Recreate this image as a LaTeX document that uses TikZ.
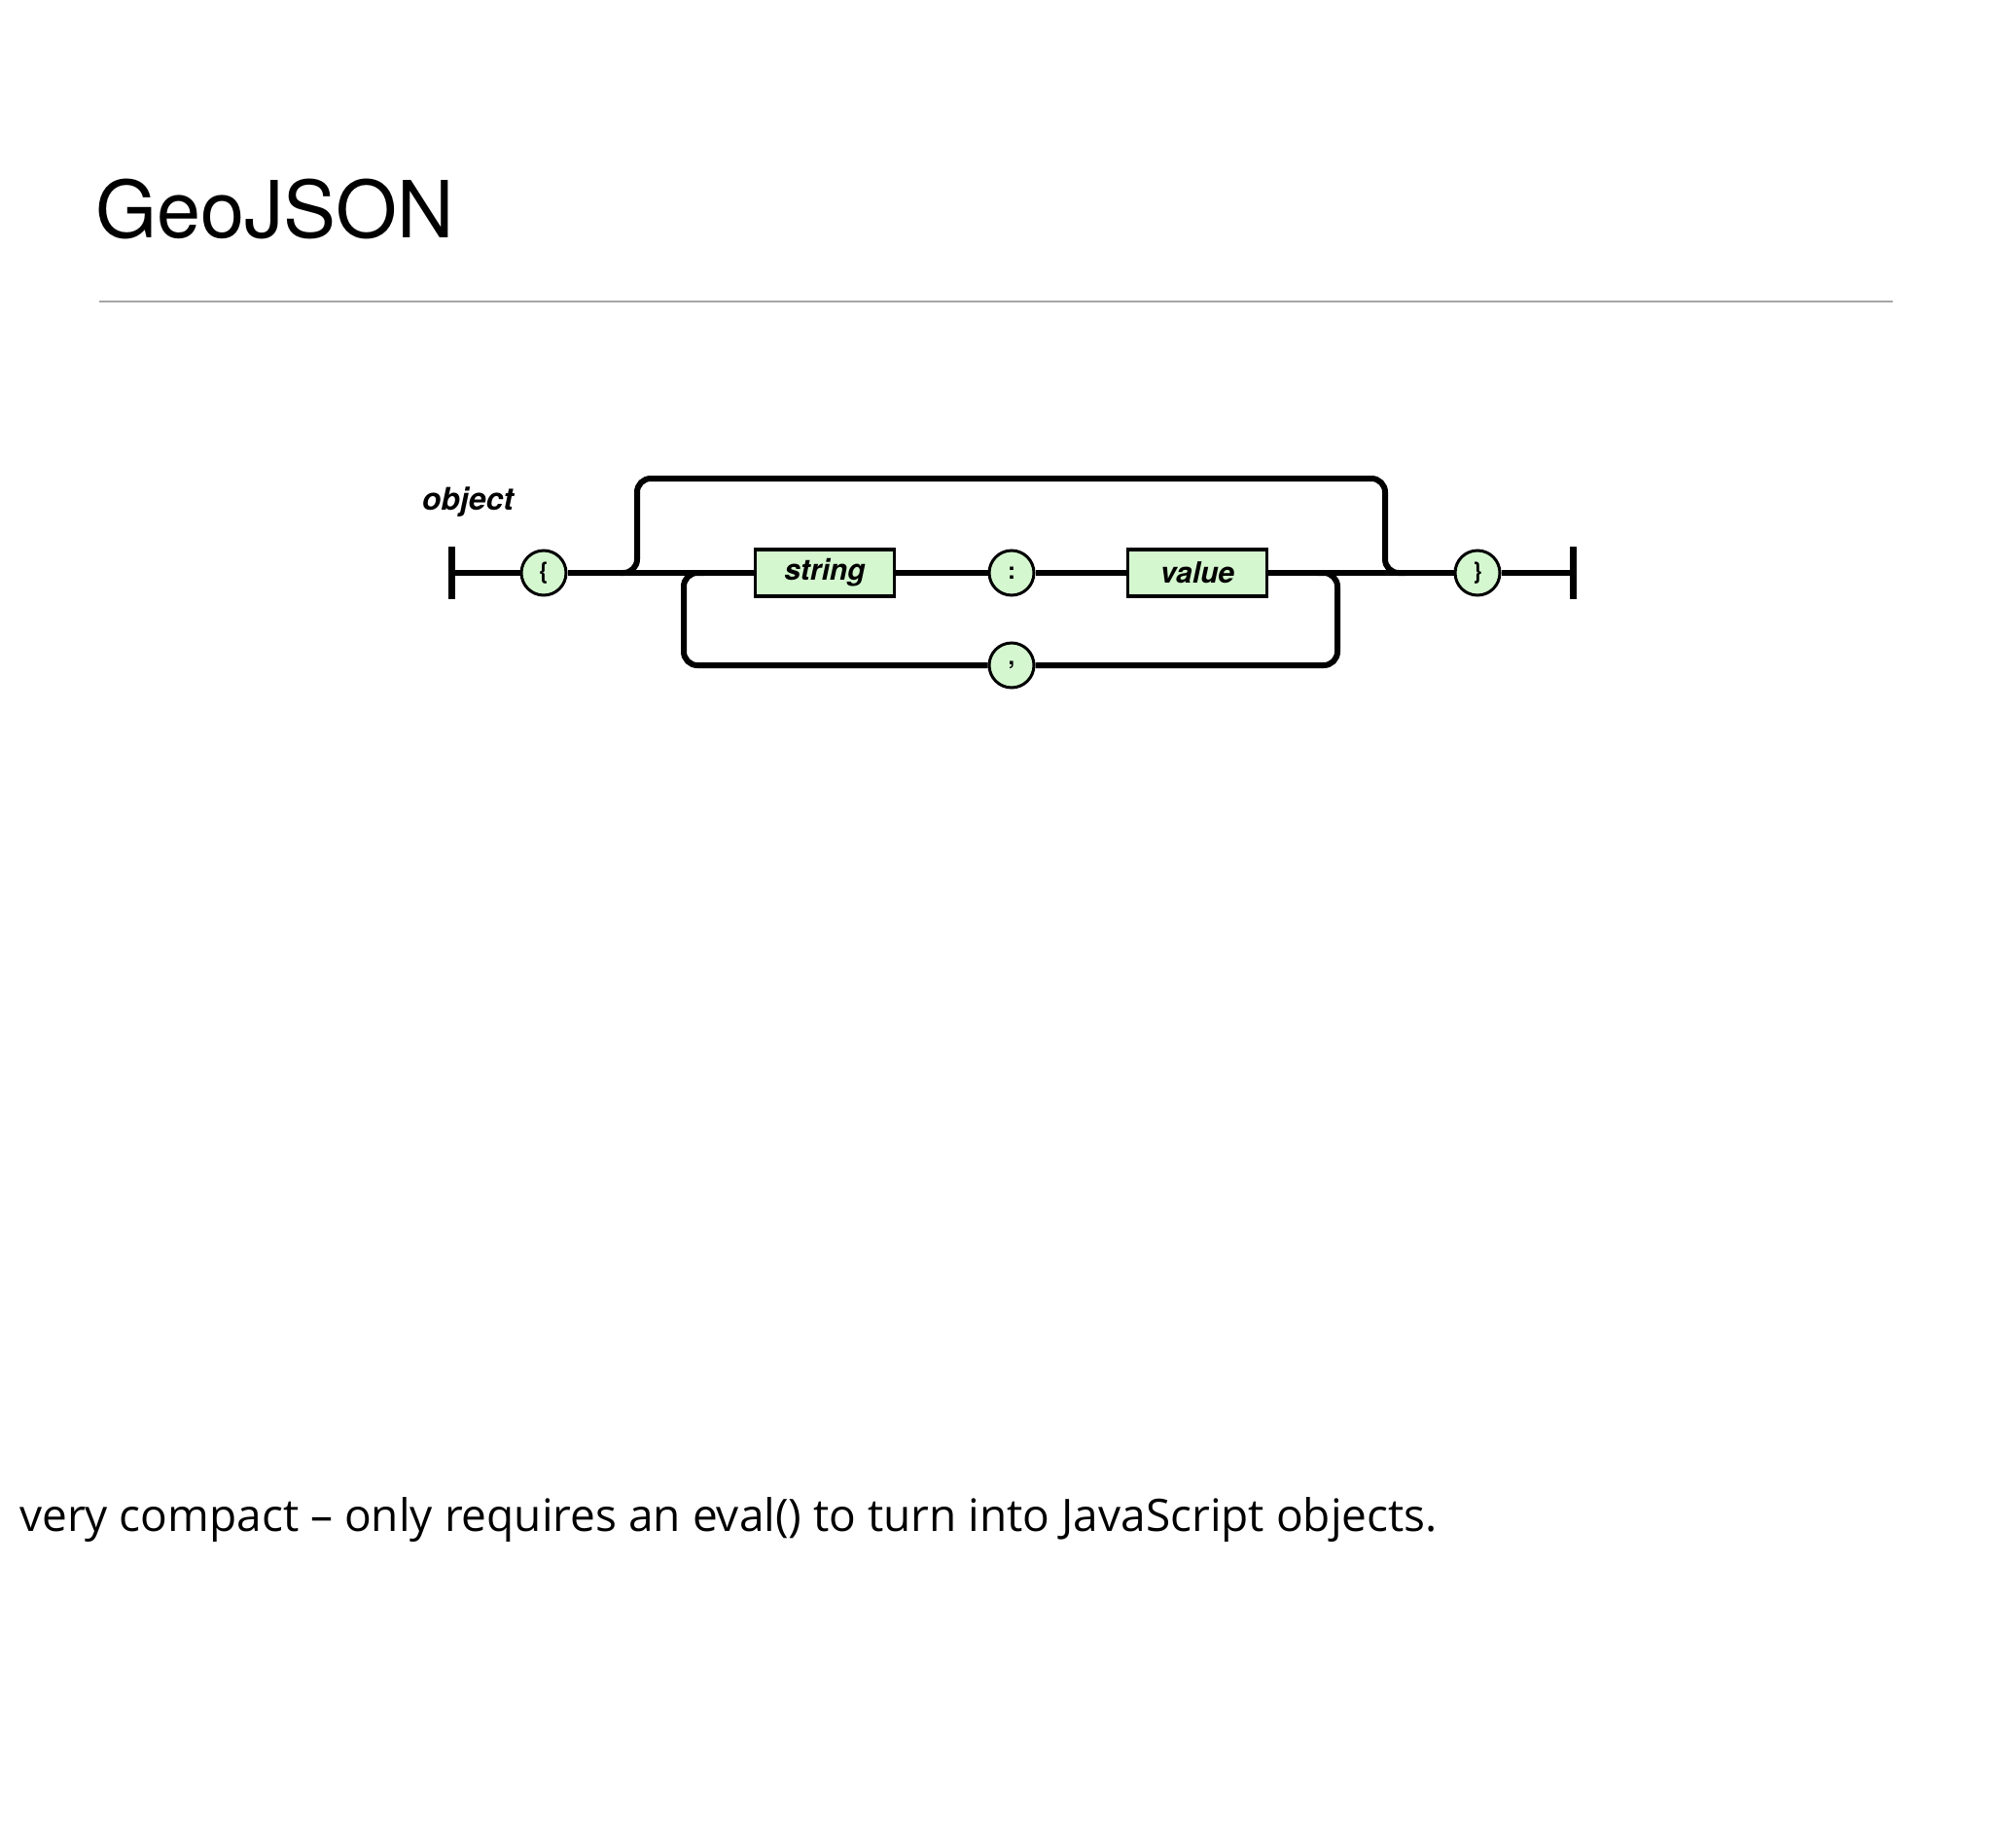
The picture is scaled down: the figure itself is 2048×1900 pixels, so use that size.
\documentclass[tikz,border=0pt]{standalone}
\usepackage{fontspec}
\setmainfont{TeX Gyre Heros}
\newfontfamily\bodyfont{Open Sans}
\definecolor{tokgreen}{HTML}{D4F7CF}
\tikzset{
  track/.style={line width=6pt, rounded corners=14pt},
  tok/.style={circle, draw, line width=3pt, fill=tokgreen, minimum size=46pt, inner sep=0pt, font=\fontsize{24}{24}\selectfont\bfseries},
  rule/.style={rectangle, draw, line width=3.5pt, fill=tokgreen, minimum width=143pt, minimum height=48pt, inner sep=0pt, font=\fontsize{30}{30}\selectfont\bfseries\itshape}
}
\begin{document}
\begin{tikzpicture}[x=1pt,y=-1pt]
    \useasboundingbox (0,0) rectangle (2048,1900);
    \node[anchor=west, inner sep=0pt, font=\fontsize{81}{81}\selectfont] (title) at (98,215) {GeoJSON};
    \draw[gray!70, line width=1.5pt] (102,310) -- (1946,310);
    \node[font=\fontsize{32}{32}\selectfont\bfseries\itshape] (label) at (481,516) {object};
    \coordinate (start) at (464,589);
    \coordinate (stop) at (1617,589);
    \node[tok] (open) at (559,589) {\{};
    \node[rule] (string) at (848,589) {string};
    \node[tok] (colon) at (1040,589) {:};
    \node[rule] (value) at (1231,589) {value};
    \node[tok] (close) at (1519,589) {\}};
    \node[tok] (comma) at (1040,684) {,};
    \draw[line width=7pt] (464,562) -- (464,616);
    \draw[line width=7pt] (1617,562) -- (1617,616);
    \draw[line width=6pt] (start) -- (open);
    \draw[line width=6pt] (open) -- (string);
    \draw[line width=6pt] (string) -- (colon);
    \draw[line width=6pt] (colon) -- (value);
    \draw[line width=6pt] (value) -- (close);
    \draw[line width=6pt] (close) -- (stop);
    % top bypass
    \draw[track] (638,589) -- (655,589) -- (655,492) -- (1424,492) -- (1424,589) -- (1445,589);
    % repeat loop
    \draw[track] (comma) -- (1375,684) -- (1375,589) -- (1355,589);
    \draw[track] (comma) -- (703,684) -- (703,589) -- (724,589);
    \node[anchor=west, inner sep=0pt, font=\bodyfont\fontsize{46}{46}\selectfont] (note) at (20,1563) {very compact – only requires an eval() to turn into JavaScript objects.};
\end{tikzpicture}
\end{document}
